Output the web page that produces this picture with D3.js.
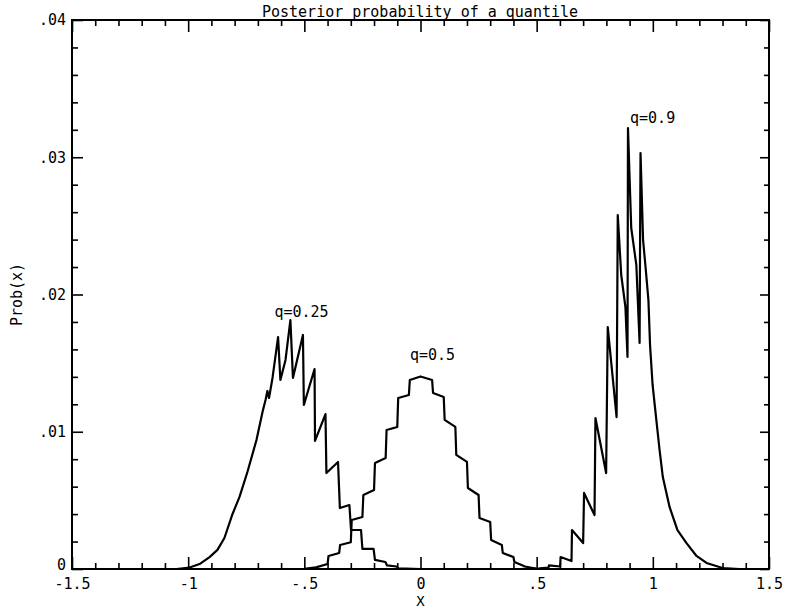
<!DOCTYPE html>
<html>
<head>
<meta charset="utf-8">
<script src="https://cdn.jsdelivr.net/npm/d3@7"></script>
<style>
  html, body { margin: 0; padding: 0; background: #fff; }
  svg { display: block; }
  text { font-family: "DejaVu Sans Mono", "Liberation Mono", monospace; fill: #000; }
</style>
</head>
<body>
<svg id="chart" width="787" height="611"></svg>
<script>
// ---- data ----
const chartTitle = "Posterior probability of a quantile";
const xLabel = "X";
const yLabel = "Prob(x)";

const xMajorTicks = [-1.5, -1, -0.5, 0, 0.5, 1, 1.5];
const xTickLabels = ["-1.5", "-1", "-.5", "0", ".5", "1", "1.5"];
const yMajorTicks = [0, 0.01, 0.02, 0.03, 0.04];
const yTickLabels = ["0", ".01", ".02", ".03", ".04"];

// q = 0.25
const q25X = [-1.05, -0.994, -0.951, -0.908, -0.874, -0.844, -0.809, -0.779, -0.745, -0.706, -0.680, -0.667,
  -0.659, -0.652, -0.637, -0.613, -0.603, -0.581, -0.560, -0.549, -0.506, -0.502, -0.456, -0.454,
  -0.409, -0.405, -0.355, -0.347, -0.306, -0.299, -0.256, -0.250, -0.202, -0.196, -0.151, -0.144,
  -0.103, -0.095, 0.0];
const q25Y = [0, 0.00011, 0.00036, 0.00087, 0.00139, 0.00226, 0.00401, 0.00525, 0.00707, 0.00940, 0.01144, 0.01231,
  0.01297, 0.01246, 0.01392, 0.01690, 0.01377, 0.01523, 0.01814, 0.01392, 0.01705, 0.01195, 0.01457, 0.00933,
  0.01129, 0.00699, 0.00780, 0.00444, 0.00466, 0.00284, 0.00284, 0.00146, 0.00146, 0.00066, 0.00051, 0.00026,
  0.00018, 0.00004, 0];

// q = 0.5
const q50X = [-0.60, -0.50, -0.45, -0.40, -0.396, -0.35, -0.346, -0.30, -0.296, -0.25, -0.246, -0.20, -0.196,
  -0.15, -0.146, -0.10, -0.096, -0.05, -0.046, 0.0, 0.05, 0.054, 0.10, 0.104, 0.15, 0.154, 0.20, 0.204,
  0.25, 0.254, 0.30, 0.304, 0.35, 0.354, 0.40, 0.404, 0.45, 0.50, 0.60];
const q50Y = [0, 0.00002, 0.00012, 0.00036, 0.00095, 0.00117, 0.00175, 0.00195, 0.00357, 0.00379, 0.00539, 0.00576, 0.00772,
  0.00809, 0.01013, 0.01035, 0.01246, 0.01268, 0.01377, 0.01403, 0.01377, 0.01282, 0.01253, 0.01086, 0.01035, 0.00831, 0.00780, 0.00590,
  0.00539, 0.00372, 0.00342, 0.00211, 0.00175, 0.00117, 0.00087, 0.00051, 0.00018, 0.00002, 0];

// q = 0.9
const q90X = [0.426, 0.512, 0.551, 0.553, 0.601, 0.603, 0.650, 0.652, 0.700, 0.704, 0.749, 0.753, 0.799, 0.806,
  0.822, 0.844, 0.849, 0.864, 0.882, 0.891, 0.893, 0.907, 0.929, 0.943, 0.947, 0.958, 0.969, 0.981, 0.988,
  0.999, 1.015, 1.029, 1.043, 1.072, 1.106, 1.145, 1.188, 1.231, 1.300, 1.373];
const q90Y = [0, 0.00004, 0.00011, 0.00026, 0.00018, 0.00087, 0.00058, 0.00284, 0.00189, 0.00554, 0.00393, 0.01100, 0.00699, 0.01763,
  0.01486, 0.01107, 0.02579, 0.02142, 0.01909, 0.01545, 0.03213, 0.02485, 0.02215, 0.01647, 0.03031, 0.02397, 0.02193, 0.01960, 0.01632,
  0.01341, 0.01086, 0.00867, 0.00670, 0.00452, 0.00284, 0.00189, 0.00095, 0.00044, 0.00007, 0];

const seriesNames = ["q=0.25", "q=0.5", "q=0.9"];
const labelX = [-0.512, 0.052, 0.999];
const labelY = [0.01836, 0.0152, 0.0325];

// ---- layout ----
const W = 787, H = 611;
const m = { left: 72, right: 18, top: 20, bottom: 42 };
const svg = d3.select("#chart");

const x = d3.scaleLinear().domain([-1.5, 1.5]).range([m.left, W - m.right]);
const y = d3.scaleLinear().domain([0, 0.04]).range([H - m.bottom, m.top]);

const xMinor = d3.range(-15, 16).map(d => d / 10).filter(v => !xMajorTicks.some(t => Math.abs(t - v) < 1e-9));
const yMinor = d3.range(0, 21).map(d => d * 0.002).filter(v => !yMajorTicks.some(t => Math.abs(t - v) < 1e-9));

const fs = 15;
const axisStyle = g => {
  g.select(".domain").remove();
  g.selectAll("line").attr("stroke", "#000").attr("stroke-width", 1.6);
  g.selectAll("text").style("font-size", fs + "px").attr("fill", "#000");
};

// bottom
svg.append("g").attr("transform", `translate(0,${y(0)})`)
  .call(d3.axisBottom(x).tickValues(xMajorTicks).tickSize(-12).tickPadding(9)
    .tickFormat((d, i) => xTickLabels[i]))
  .call(axisStyle);
svg.append("g").attr("transform", `translate(0,${y(0)})`)
  .call(d3.axisBottom(x).tickValues(xMinor).tickSize(-6).tickFormat(""))
  .call(axisStyle);
// top
svg.append("g").attr("transform", `translate(0,${y(0.04)})`)
  .call(d3.axisTop(x).tickValues(xMajorTicks).tickSize(-12).tickFormat(""))
  .call(axisStyle);
svg.append("g").attr("transform", `translate(0,${y(0.04)})`)
  .call(d3.axisTop(x).tickValues(xMinor).tickSize(-6).tickFormat(""))
  .call(axisStyle);
// left
const leftAxis = svg.append("g").attr("transform", `translate(${x(-1.5)},0)`)
  .call(d3.axisLeft(y).tickValues(yMajorTicks).tickSize(-11).tickPadding(6)
    .tickFormat((d, i) => yTickLabels[i]))
  .call(axisStyle);
leftAxis.selectAll("text").filter(d => d === 0).attr("dy", "0.05em");
svg.append("g").attr("transform", `translate(${x(-1.5)},0)`)
  .call(d3.axisLeft(y).tickValues(yMinor).tickSize(-6).tickFormat(""))
  .call(axisStyle);
// right
svg.append("g").attr("transform", `translate(${x(1.5)},0)`)
  .call(d3.axisRight(y).tickValues(yMajorTicks).tickSize(-9).tickFormat(""))
  .call(axisStyle);
svg.append("g").attr("transform", `translate(${x(1.5)},0)`)
  .call(d3.axisRight(y).tickValues(yMinor).tickSize(-5).tickFormat(""))
  .call(axisStyle);

// frame
svg.append("rect")
  .attr("x", x(-1.5)).attr("y", y(0.04))
  .attr("width", x(1.5) - x(-1.5)).attr("height", y(0) - y(0.04))
  .attr("fill", "none").attr("stroke", "#000").attr("stroke-width", 2);

// curves
const line = d3.line().x(d => x(d[0])).y(d => y(d[1]));
const series = [
  d3.zip(q25X, q25Y),
  d3.zip(q50X, q50Y),
  d3.zip(q90X, q90Y)
];
svg.append("g").selectAll("path").data(series).join("path")
  .attr("d", line)
  .attr("fill", "none").attr("stroke", "#000").attr("stroke-width", 2.2)
  .attr("stroke-linejoin", "round");

// series labels
svg.append("g").selectAll("text").data(seriesNames).join("text")
  .attr("x", (d, i) => x(labelX[i])).attr("y", (d, i) => y(labelY[i]))
  .attr("text-anchor", "middle").style("font-size", fs + "px")
  .text(d => d);

// titles
svg.append("text").attr("x", 420).attr("y", 17).attr("text-anchor", "middle")
  .style("font-size", fs + "px").text(chartTitle);
svg.append("text").attr("x", x(0)).attr("y", 606).attr("text-anchor", "middle")
  .style("font-size", "14px").text(xLabel);
svg.append("text").attr("transform", `translate(22,${y(0.02)}) rotate(-90)`)
  .attr("text-anchor", "middle").style("font-size", fs + "px").text(yLabel);
</script>
</body>
</html>
